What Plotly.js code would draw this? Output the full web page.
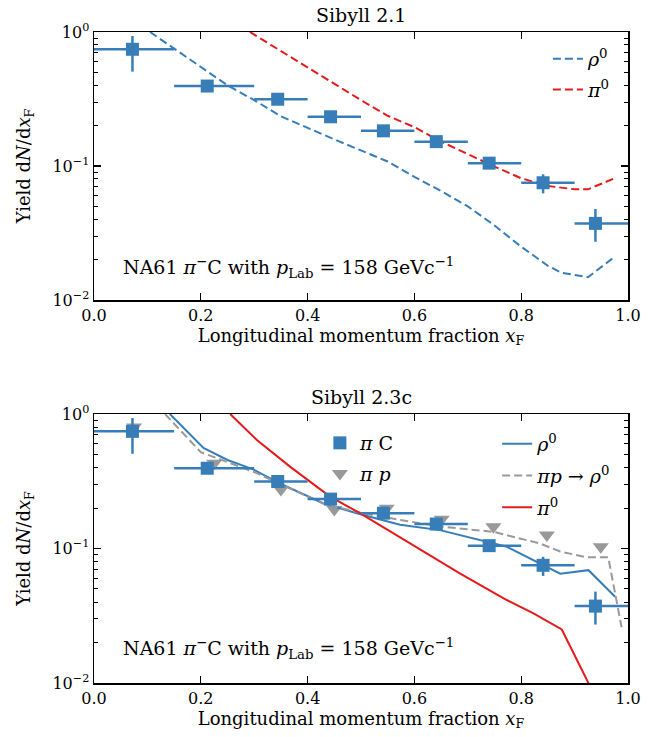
<!DOCTYPE html>
<html>
<head>
<meta charset="utf-8">
<script src="https://cdn.plot.ly/plotly-3.0.1.min.js"></script>
<style>html,body{margin:0;padding:0;background:#fff}</style>
</head>
<body>
<div id="chart" style="width:667px;height:737px"></div>
<script>
// ---- NA61 pi- C data (both panels) ----
const xC = [0.072, 0.212, 0.344, 0.443, 0.542, 0.641, 0.740, 0.841, 0.939];
const yC = [0.743, 0.395, 0.315, 0.233, 0.183, 0.152, 0.105, 0.075, 0.0373];
const binLo = [0.0, 0.15, 0.30, 0.40, 0.50, 0.60, 0.70, 0.80, 0.90];
const binHi = [0.15, 0.30, 0.40, 0.50, 0.60, 0.70, 0.80, 0.90, 1.0];
const yCHi = [0.933, 0.41, 0.33, 0.245, 0.192, 0.16, 0.111, 0.0867, 0.0478];
const yCLo = [0.506, 0.38, 0.30, 0.222, 0.174, 0.144, 0.099, 0.0625, 0.0272];

// ---- pi p data (bottom) ----
const xP = [0.075, 0.225, 0.350, 0.450, 0.548, 0.651, 0.748, 0.848, 0.949];
const yP = [0.80, 0.43, 0.275, 0.195, 0.199, 0.165, 0.145, 0.126, 0.103];

// ---- Sibyll 2.1 curves ----
const xRho21 = [0.105, 0.15, 0.25, 0.30, 0.35, 0.45, 0.55, 0.60, 0.65, 0.70, 0.75, 0.80, 0.85, 0.875, 0.925, 0.975];
const yRho21 = [1.0, 0.75, 0.40, 0.31, 0.235, 0.158, 0.108, 0.083, 0.065, 0.050, 0.036, 0.025, 0.018, 0.016, 0.0148, 0.021];
const xPi21 = [0.292, 0.35, 0.40, 0.45, 0.50, 0.55, 0.60, 0.65, 0.70, 0.75, 0.80, 0.85, 0.90, 0.925, 0.975];
const yPi21 = [1.0, 0.72, 0.546, 0.41, 0.31, 0.237, 0.195, 0.152, 0.122, 0.099, 0.081, 0.071, 0.067, 0.067, 0.081];

// ---- Sibyll 2.3c curves ----
const xRho23 = [0.142, 0.205, 0.25, 0.298, 0.348, 0.429, 0.492, 0.573, 0.648, 0.685, 0.773, 0.873, 0.926, 0.976];
const yRho23 = [1.0, 0.56, 0.455, 0.388, 0.305, 0.217, 0.183, 0.150, 0.137, 0.126, 0.103, 0.065, 0.069, 0.0438];
const xPpRho23 = [0.133, 0.20, 0.30, 0.35, 0.43, 0.498, 0.573, 0.654, 0.748, 0.835, 0.873, 0.923, 0.963, 0.988];
const yPpRho23 = [1.0, 0.52, 0.37, 0.30, 0.215, 0.185, 0.163, 0.145, 0.133, 0.109, 0.095, 0.086, 0.086, 0.026];
const xPi23 = [0.255, 0.305, 0.367, 0.442, 0.498, 0.560, 0.623, 0.685, 0.773, 0.823, 0.876, 0.927];
const yPi23 = [1.0, 0.641, 0.406, 0.243, 0.183, 0.130, 0.092, 0.0654, 0.0414, 0.033, 0.025, 0.0098];

// ---- ticks ----
const xTickVals = [0, 0.2, 0.4, 0.6, 0.8, 1.0];
const xTickText = ['0.0', '0.2', '0.4', '0.6', '0.8', '1.0'];
const yTickVals = [0.01, 0.1, 1];
const yTickText = ['10<sup>\u22122</sup>', '10<sup>\u22121</sup>', '10<sup>0</sup>'];
const yMinorVals = [0.02,0.03,0.04,0.05,0.06,0.07,0.08,0.09,0.2,0.3,0.4,0.5,0.6,0.7,0.8,0.9];

const BLUE = '#377eb8', RED = '#e41a1c', GRAY = '#999999';
const FONT = 'DejaVu Serif, serif';

const xErrPlus = binHi.map((h, i) => h - xC[i]);
const xErrMinus = binLo.map((l, i) => xC[i] - l);
const yErrPlus = yCHi.map((h, i) => h - yC[i]);
const yErrMinus = yCLo.map((l, i) => yC[i] - l);

function dataTrace(xa, ya, show, leg, grp) {
  return {
    x: xC, y: yC, xaxis: xa, yaxis: ya, type: 'scatter', mode: 'markers',
    name: '<i>\u03c0</i> C', showlegend: show, legend: leg, legendrank: 1, legendgroup: grp,
    marker: {symbol: 'square', size: 13, color: BLUE},
    error_x: {type: 'data', symmetric: false, array: xErrPlus, arrayminus: xErrMinus, color: BLUE, thickness: 2.5, width: 0},
    error_y: {type: 'data', symmetric: false, array: yErrPlus, arrayminus: yErrMinus, color: BLUE, thickness: 2.5, width: 0}
  };
}

const traces = [
  {x: xRho21, y: yRho21, xaxis: 'x', yaxis: 'y', mode: 'lines', name: '<i>\u03c1</i><sup>0</sup>', legendgroup: 'a',
   line: {color: BLUE, width: 2, dash: '8px,4px'}, legend: 'legend'},
  {x: xPi21, y: yPi21, xaxis: 'x', yaxis: 'y', mode: 'lines', name: '<i>\u03c0</i><sup>0</sup>', legendgroup: 'b',
   line: {color: RED, width: 2, dash: '8px,4px'}, legend: 'legend'},
  dataTrace('x', 'y', false, 'legend', 'c'),
  {x: xP, y: yP, xaxis: 'x2', yaxis: 'y2', mode: 'markers', name: '<i>\u03c0 p</i>', legendrank: 2, legendgroup: 'd',
   marker: {symbol: 'triangle-down', size: 14, color: GRAY}, legend: 'legend2'},
  {x: xRho23, y: yRho23, xaxis: 'x2', yaxis: 'y2', mode: 'lines', name: '<i>\u03c1</i><sup>0</sup>', legendgroup: 'e',
   line: {color: BLUE, width: 2}, legend: 'legend3'},
  {x: xPpRho23, y: yPpRho23, xaxis: 'x2', yaxis: 'y2', mode: 'lines', name: '<i>\u03c0p</i> \u2192 <i>\u03c1</i><sup>0</sup>', legendgroup: 'f',
   line: {color: GRAY, width: 2, dash: '8px,4px'}, legend: 'legend3'},
  {x: xPi23, y: yPi23, xaxis: 'x2', yaxis: 'y2', mode: 'lines', name: '<i>\u03c0</i><sup>0</sup>', legendgroup: 'g',
   line: {color: RED, width: 2}, legend: 'legend3'},
  dataTrace('x2', 'y2', true, 'legend2', 'h')
];

function pY(px) { return 1 - (px - 32) / 651; }

function xAxis(anchor) {
  return {
    anchor: anchor, domain: [0, 1], range: [0, 1], tickmode: 'array', tickvals: xTickVals, ticktext: xTickText,
    ticks: 'inside', ticklen: 7, tickwidth: 1.2, tickcolor: '#000', showline: true, linecolor: '#000', linewidth: 1.5,
    mirror: 'allticks', showgrid: false, zeroline: false,
    tickfont: {family: FONT, size: 16, color: '#000'},
    title: {text: 'Longitudinal momentum fraction <i>x</i><sub>F</sub>', font: {family: FONT, size: 18, color: '#000'}, standoff: 5}
  };
}
function yAxis(anchor, dom) {
  return {
    anchor: anchor, domain: dom, type: 'log', range: [-2, 0], tickmode: 'array', tickvals: yTickVals, ticktext: yTickText,
    ticks: 'inside', ticklen: 7, tickwidth: 1.2, tickcolor: '#000', showline: true, linecolor: '#000', linewidth: 1.5,
    mirror: 'allticks', showgrid: false, zeroline: false,
    minor: {tickmode: 'array', tickvals: yMinorVals, ticks: 'inside', ticklen: 4, tickwidth: 1, tickcolor: '#000', showgrid: false},
    tickfont: {family: FONT, size: 16, color: '#000'},
    title: {text: 'Yield d<i>N</i>/d<i>x</i><sub>F</sub>', font: {family: FONT, size: 18, color: '#000'}, standoff: 17}
  };
}

const legFont = {family: FONT, size: 19, color: '#000'};
const annText = 'NA61 <i>\u03c0</i><sup>\u2212</sup>C with <i>p</i><sub>Lab</sub> = 158 GeVc<sup>\u22121</sup>';

const layout = {
  width: 667, height: 737, margin: {l: 94, r: 39, t: 32, b: 54},
  paper_bgcolor: '#fff', plot_bgcolor: '#fff',
  font: {family: FONT, color: '#000'},
  xaxis: xAxis('y'), yaxis: yAxis('x', [pY(300), 1]),
  xaxis2: xAxis('y2'), yaxis2: yAxis('x2', [0, pY(414)]),
  legend: {x: 0.85, xanchor: 'left', y: pY(40), yanchor: 'top', bgcolor: 'rgba(0,0,0,0)', font: legFont, borderwidth: 0, tracegroupgap: 3},
  legend2: {x: 0.423, xanchor: 'left', y: pY(424), yanchor: 'top', bgcolor: 'rgba(0,0,0,0)', font: legFont, borderwidth: 0, tracegroupgap: 3},
  legend3: {x: 0.755, xanchor: 'left', y: pY(425), yanchor: 'top', bgcolor: 'rgba(0,0,0,0)', font: legFont, borderwidth: 0, tracegroupgap: 4},
  annotations: [
    {text: 'Sibyll 2.1', xref: 'paper', yref: 'paper', x: 0.5, y: 1, yanchor: 'bottom', yshift: 4, showarrow: false,
     font: {family: FONT, size: 19, color: '#000'}},
    {text: 'Sibyll 2.3c', xref: 'paper', yref: 'paper', x: 0.5, y: pY(414), yanchor: 'bottom', yshift: 4, showarrow: false,
     font: {family: FONT, size: 19, color: '#000'}},
    {text: annText, xref: 'x', yref: 'y', x: 0.05, y: Math.log10(0.0176), xanchor: 'left', yanchor: 'middle', showarrow: false,
     font: {family: FONT, size: 19, color: '#000'}},
    {text: annText, xref: 'x2', yref: 'y2', x: 0.05, y: Math.log10(0.018), xanchor: 'left', yanchor: 'middle', showarrow: false,
     font: {family: FONT, size: 19, color: '#000'}}
  ]
};

Plotly.newPlot('chart', traces, layout, {displayModeBar: false, staticPlot: true});
</script>
</body>
</html>
